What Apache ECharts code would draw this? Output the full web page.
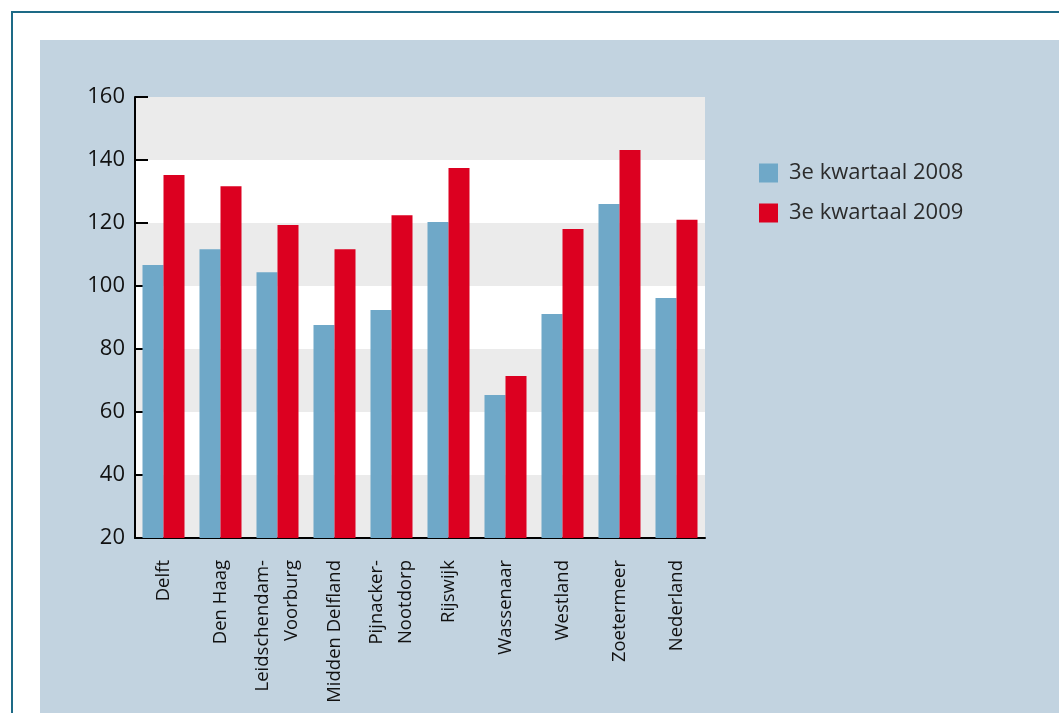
<!DOCTYPE html>
<html><head><meta charset="utf-8">
<script src="https://cdn.jsdelivr.net/npm/echarts@6/dist/echarts.min.js"></script>
<style>
html,body{margin:0;padding:0;background:#fff;width:1059px;height:713px;overflow:hidden;position:relative;}
#frame{position:absolute;left:11px;top:11px;width:1200px;height:900px;border:2px solid #1d6a86;box-sizing:border-box;}
#panel{position:absolute;left:40px;top:40px;width:1100px;height:800px;background:#c2d3e0;}
#chart{position:absolute;left:0;top:0;width:1059px;height:713px;}
</style></head>
<body>
<div id="frame"></div>
<div id="panel"></div>
<div id="chart"></div>
<script>
const categories = ['Delft','Den Haag','Leidschendam-\nVoorburg','Midden Delfland','Pijnacker-\nNootdorp','Rijswijk','Wassenaar','Westland','Zoetermeer','Nederland'];
const series2008 = [106.7, 111.7, 104.4, 87.6, 92.4, 120.3, 65.4, 91.1, 126.0, 96.2];
const series2009 = [135.2, 131.7, 119.4, 111.7, 122.5, 137.5, 71.4, 118.1, 143.2, 121.0];
const seriesNames = ['3e kwartaal 2008','3e kwartaal 2009'];
const yTicks = {min:20, max:160, interval:20};

const font = 'Open Sans';
const chart = echarts.init(document.getElementById('chart'));
chart.setOption({
  backgroundColor: 'transparent',
  animation: false,
  textStyle: {fontFamily: font},
  grid: {left:135, right:354, top:97, bottom:175, containLabel:false},
  legend: {
    orient:'vertical', left:759, top:162, padding:0, itemWidth:19, itemHeight:19, itemGap:18,
    icon:'rect',
    textStyle:{fontFamily:font, fontSize:22, color:'#2b2b2b', padding:[0,0,0,6], lineHeight:19},
    data: seriesNames
  },
  xAxis: {
    type:'category', data: categories,
    axisLine:{lineStyle:{color:'#000', width:2}},
    axisTick:{inside:true, length:10, lineStyle:{color:'#000', width:2}},
    axisLabel:{rotate:90, fontFamily:font, fontSize:18.5, color:'#111', margin:22, interval:0, lineHeight:29}
  },
  yAxis: {
    type:'value', min:yTicks.min, max:yTicks.max, interval:yTicks.interval,
    axisLine:{show:true, lineStyle:{color:'#000', width:2}},
    axisTick:{show:true, inside:true, length:13, lineStyle:{color:'#000', width:2}},
    axisLabel:{fontFamily:font, fontSize:22, color:'#111', margin:10},
    splitLine:{show:false},
    splitArea:{show:true, areaStyle:{color:['#ebebeb','#ffffff']}}
  },
  series: [
    {name:seriesNames[0], type:'bar', data:series2008, barWidth:21, barGap:'0%', itemStyle:{color:'#6fa8c8'}},
    {name:seriesNames[1], type:'bar', data:series2009, barWidth:21, barGap:'0%', itemStyle:{color:'#dc0020'}}
  ]
});
</script>
</body></html>
